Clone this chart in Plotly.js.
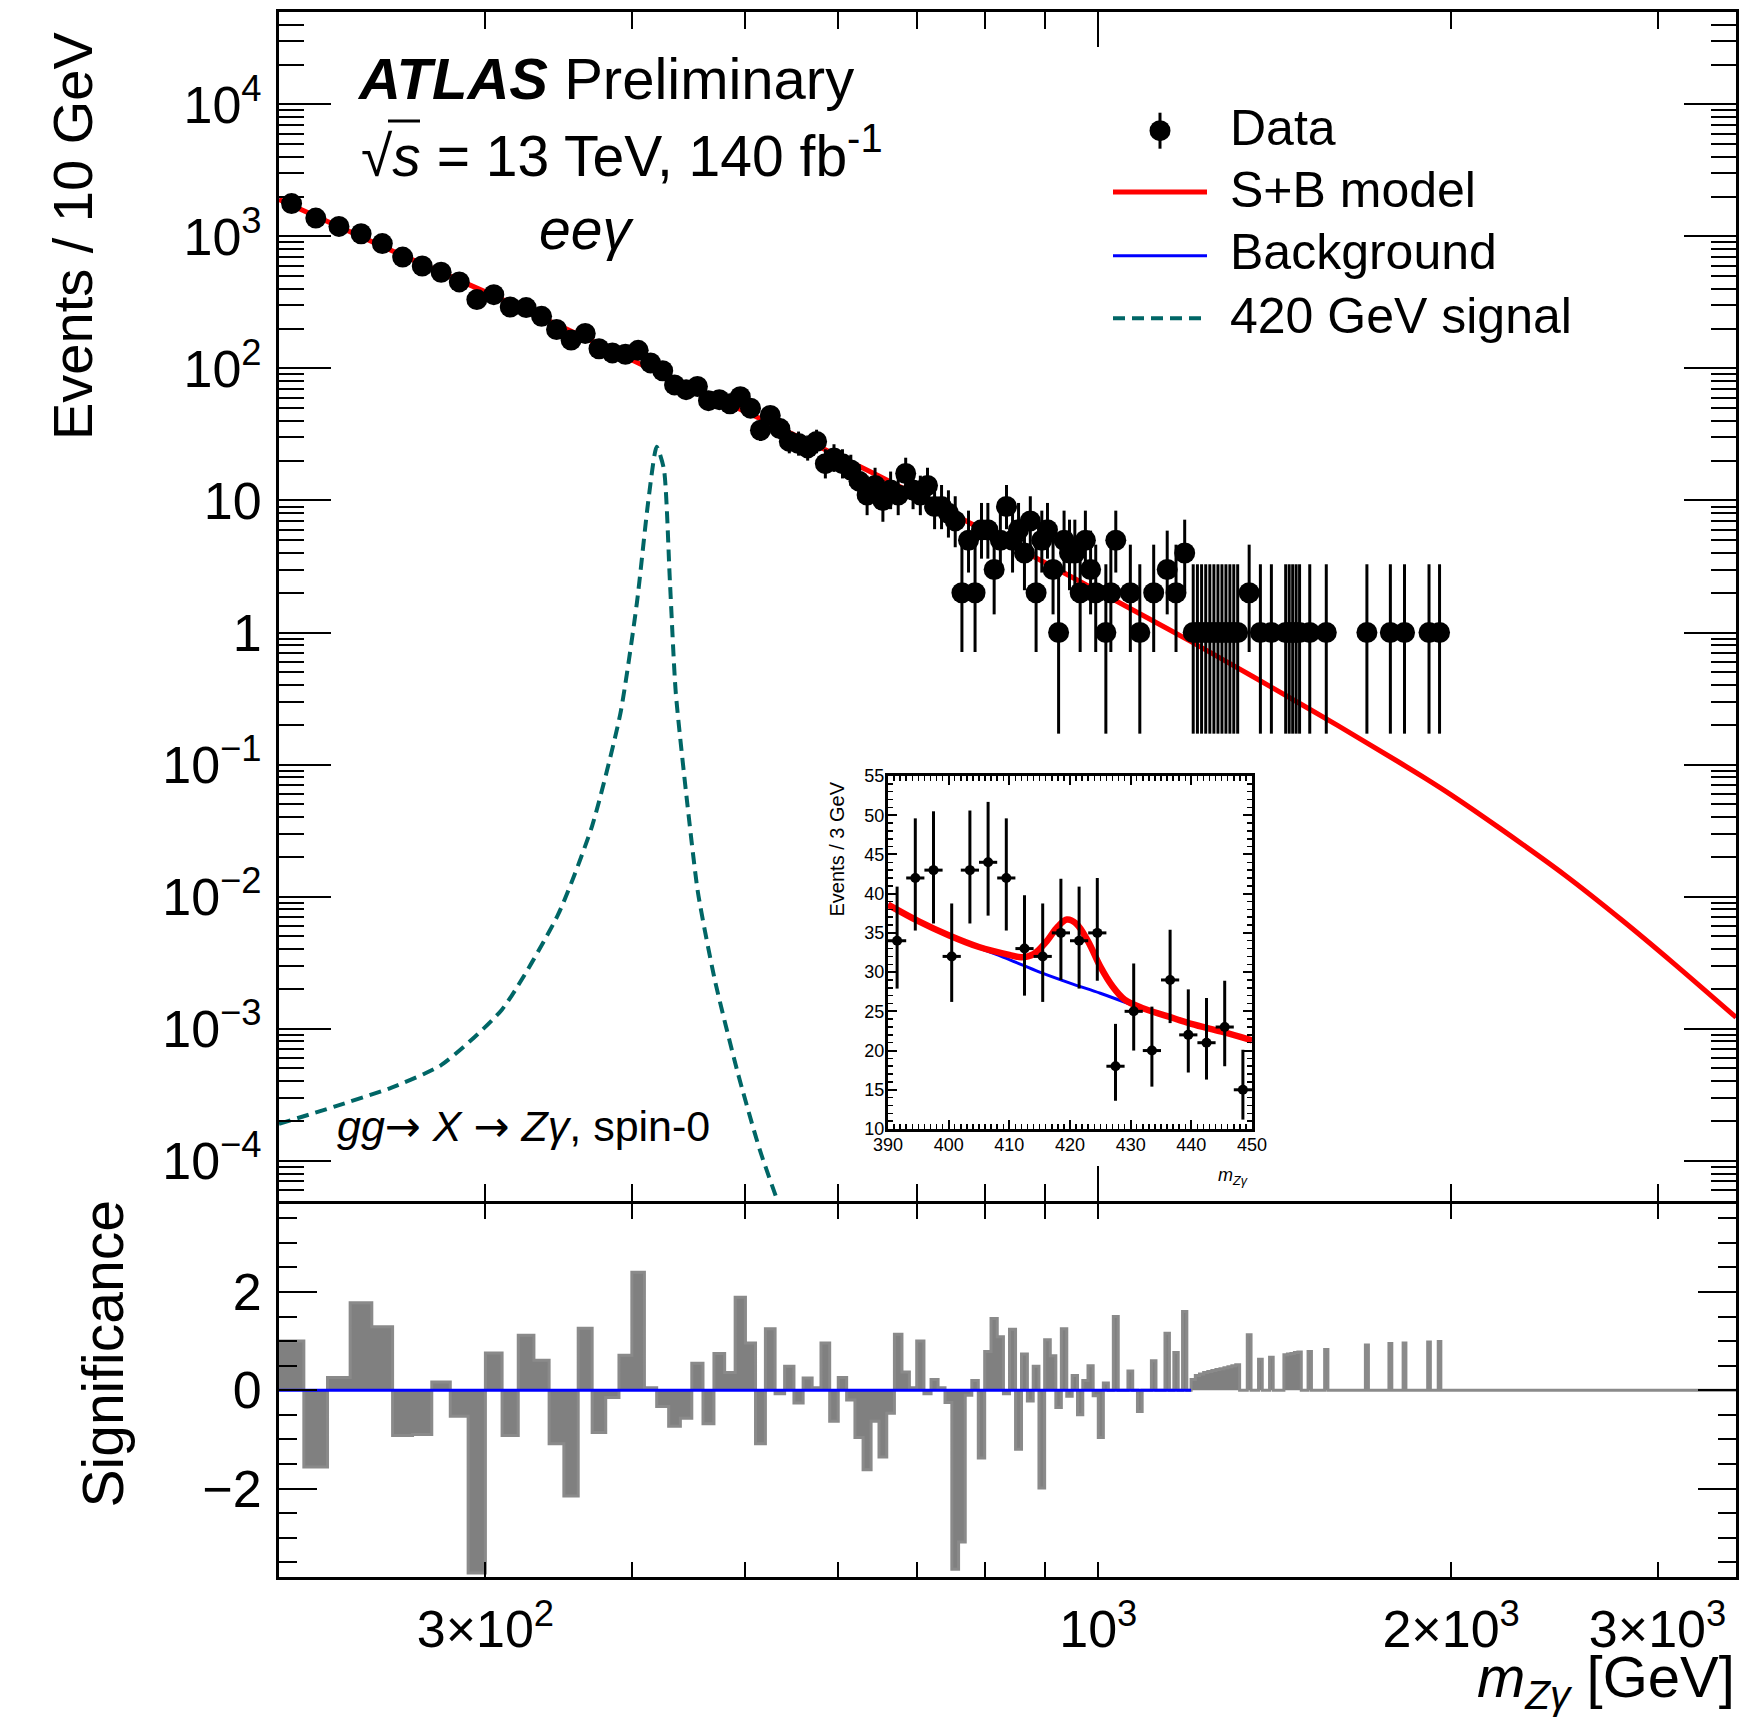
<!DOCTYPE html>
<html>
<head>
<meta charset="utf-8">
<script src="https://cdn.plot.ly/plotly-3.0.1.min.js"></script>
<style>html,body{margin:0;padding:0;background:#fff;}#chart{width:1751px;height:1721px;}</style>
</head>
<body>
<div id="chart"></div>
<script>
// ---------------- DATA ----------------
// 10 GeV bins starting at 200 GeV
const binLowEdge = 200;
const binWidth = 10;
// observed events per bin (centres 205, 215, ... 1995)
const dataCounts = [
  1770,1375,1190,1047,881,697,596,535,452,332,
  362,292,289,248,197,164,184,141,131,128,
  137,110,96,75,69,73,57,58,54,61,
  50,34,44,35,28,27,25,28,19,21,
  19,17,14,11,13,10,12,11,16,12,
  11,13,9,9,8,7,2,5,2,6,
  6,3,5,9,5,6,4,7,2,5,
  6,3,1,5,4,4,2,5,3,2,
  0,1,2,5,0,0,2,0,1,0,
  0,2,0,0,3,0,2,0,4,0,
  1,1,1,1,1,1,1,1,1,1,
  1,1,0,0,2,0,0,1,0,0,
  1,0,0,0,1,1,1,1,1,0,
  0,1,0,0,0,0,1,0,0,0,
  0,0,0,0,0,0,0,0,0,1,
  0,0,0,0,0,0,0,1,0,0,
  0,0,1,0,0,0,0,0,0,0,
  0,1,0,0,0,1,0,0,0,0
];
// significance per bin
const significance = [
  1.00,-1.56,0.26,1.78,1.29,-0.92,-0.90,0.17,-0.53,-3.72,
  0.76,-0.92,1.12,0.61,-1.09,-2.15,1.26,-0.86,-0.15,0.71,
  2.40,0.05,-0.33,-0.73,-0.57,0.55,-0.68,0.75,0.36,1.89,
  0.96,-1.09,1.25,-0.07,0.49,-0.26,0.25,0.05,0.96,-0.63,
  0.26,-0.20,-0.96,-1.62,-0.63,-1.36,-0.47,1.14,0.37,0.05,
  1.00,-0.07,0.22,0.05,-0.25,-3.64,-3.09,-0.10,0.20,-1.38,
  0.79,1.46,1.09,-0.07,1.24,-1.20,0.74,-0.22,0.49,-1.99,
  1.03,0.70,-0.35,1.25,-0.12,0.30,-0.50,0.20,0.50,-0.11,
  -0.96,0.15,0,1.50,0,0,0.39,0,-0.43,0,
  0,0.60,0,0,1.16,0,0.77,0,1.60,0,
  0.22,0.30,0.33,0.36,0.38,0.40,0.42,0.44,0.46,0.48,
  0.50,0.52,0,0,1.13,0,0,0.63,0,0,
  0.67,0,0,0,0.72,0.74,0.75,0.77,0.78,0,
  0,0.79,0,0,0,0,0.83,0,0,0,
  0,0,0,0,0,0,0,0,0,0.92,
  0,0,0,0,0,0,0,0.95,0,0,
  0,0,0.96,0,0,0,0,0,0,0,
  0,0.98,0,0,0,0.99,0,0,0,0
];
// S+B / background model (events / 10 GeV)
const modelMass = [200,250,300,350,400,450,500,550,600,650,700,750,800,850,900,950,1000,1100,1200,1300,1400,1600,1800,1900,2000,2200,2500,2800,3100,3500];
const sbModel   = [1900,775,380,203,116,71,47,31.5,21.7,15.3,10.95,7.97,5.9,4.44,3.39,2.62,2.05,1.30,0.853,0.571,0.393,0.198,0.106,0.079,0.059,0.033,0.0146,0.0066,0.0031,0.00122];
const bkgModel  = [1900,775,380,203,116,71,47,31.5,21.7,15.3,10.95,7.97,5.9,4.44,3.39,2.62,2.05,1.30,0.853,0.571,0.393,0.198,0.106,0.079,0.059,0.033,0.0146,0.0066,0.0031,0.00122];
// 420 GeV signal shape
const signalMass  = [200,223,249.5,275,310,346,370,391,404,413,420,426,431,436,446,455.5,471,492,514,540];
const signalYield = [1.9e-4,2.57e-4,3.58e-4,5.3e-4,1.4e-3,7.3e-3,0.0344,0.241,1.68,9.7,25.5,17.3,2.5,0.355,0.051,0.0107,2.3e-3,4.8e-4,1.23e-4,3.5e-5];
// inset (3 GeV bins)
const insetMass   = [391.5,394.5,397.5,400.5,403.5,406.5,409.5,412.5,415.5,418.5,421.5,424.5,427.5,430.5,433.5,436.5,439.5,442.5,445.5,448.5];
const insetCounts = [34,42,43,32,43,44,42,33,32,35,34,35,18,25,20,29,22,21,23,15];
const insetErrUp  = [6.9,7.6,7.5,6.75,7.6,7.7,7.6,6.8,6.75,6.9,6.9,7.0,5.4,6.1,5.6,6.4,5.8,5.7,5.9,5.1];
const insetErrDn  = [6.1,6.7,6.8,5.8,6.8,6.8,6.7,6.0,5.8,6.0,6.1,6.1,4.4,5.0,4.6,5.5,4.8,4.7,5.0,3.8];
const insetHalfBin = 1.5;
const insetSBMass = [390,395,400,405,410,412,414,416,418,419.5,421,423,425,427,429,432,436,440,445,450];
const insetSB     = [38.6,36.5,34.7,33.2,32.2,31.9,32.3,33.8,35.8,36.7,36.2,33.9,30.7,28.2,26.5,25.4,24.4,23.4,22.4,21.3];
const insetBkgMass = [390,395,400,405,410,415,420,425,430,435,440,445,450];
const insetBkg     = [38.6,36.5,34.7,33.1,31.6,30.0,28.6,27.3,25.9,24.6,23.4,22.3,21.3];
// axis tick labels
const yTickVals = [1e-4,1e-3,1e-2,1e-1,1,10,100,1000,10000];
const yTickText = ['10<sup>\u22124</sup>','10<sup>\u22123</sup>','10<sup>\u22122</sup>','10<sup>\u22121</sup>','1','10','10<sup>2</sup>','10<sup>3</sup>','10<sup>4</sup>'];
const xTickVals = [300,1000,2000,3000];
const xTickText = ['3\u00d710<sup>2</sup>','10<sup>3</sup>','2\u00d710<sup>3</sup>','3\u00d710<sup>3</sup>'];
const xMinorVals = [300,400,500,600,700,800,900,2000,3000];
const sigTickVals = [-2,0,2];
const sigTickText = ['\u22122','0','2'];

// ---------------- BUILD ----------------
const FONT = 'Liberation Sans, Arial, Helvetica, sans-serif';
const W = 1751, H = 1721;
const L = 279, R = 15, T = 12, B = 144;
const plotW = W - L - R, plotH = H - T - B;
const px = x => (x - L) / plotW;
const py = y => (H - B - y) / plotH;
const splitY = py(1202);
const gap = 1.5 / plotH;

const dX = [], dY = [], dUp = [], dDn = [];
dataCounts.forEach((n, i) => {
  if (n > 0) {
    dX.push(binLowEdge + binWidth * (i + 0.5));
    dY.push(n);
    const lo = n * Math.pow(1 - 1 / (9 * n) - 1 / (3 * Math.sqrt(n)), 3);
    const hi = (n + 1) * Math.pow(1 - 1 / (9 * (n + 1)) + 1 / (3 * Math.sqrt(n + 1)), 3);
    dUp.push(hi - n); dDn.push(n - lo);
  }
});
const sX = [], sY = [];
significance.forEach((s, i) => { sX.push(binLowEdge + binWidth * i); sY.push(s); });
sX.push(binLowEdge + binWidth * significance.length); sY.push(0);
sX.push(3500); sY.push(0);

const yMinor = [];
for (let d = -5; d <= 4; d++) for (let k = 2; k <= 9; k++) { const v = k * Math.pow(10, d); if (v > 5.01e-5 && v < 4.99e4) yMinor.push(v); }

const traces = [
  { x: sX, y: sY, xaxis: 'x2', yaxis: 'y2', type: 'scatter', mode: 'lines', line: { shape: 'hv', color: '#8a8a8a', width: 3 }, fill: 'tozeroy', fillcolor: '#808080', hoverinfo: 'skip' },
  { x: [200, 1200], y: [0, 0], xaxis: 'x2', yaxis: 'y2', type: 'scatter', mode: 'lines', line: { color: '#0000ff', width: 3 } },
  { x: signalMass, y: signalYield, type: 'scatter', mode: 'lines', line: { color: '#006666', width: 4, dash: '12px,7px', shape: 'spline', smoothing: 0.6 } },
  { x: modelMass, y: bkgModel, type: 'scatter', mode: 'lines', line: { color: '#0000ff', width: 3, shape: 'spline', smoothing: 0.8 } },
  { x: modelMass, y: sbModel, type: 'scatter', mode: 'lines', line: { color: '#ff0000', width: 5, shape: 'spline', smoothing: 0.8 } },
  { x: dX, y: dY, type: 'scatter', mode: 'markers', marker: { color: 'black', size: 21 },
    error_y: { type: 'data', symmetric: false, array: dUp, arrayminus: dDn, width: 0, thickness: 3, color: 'black' } },
  { x: insetBkgMass, y: insetBkg, xaxis: 'x3', yaxis: 'y3', type: 'scatter', mode: 'lines', line: { color: '#0000ff', width: 3, shape: 'spline' } },
  { x: insetSBMass, y: insetSB, xaxis: 'x3', yaxis: 'y3', type: 'scatter', mode: 'lines', line: { color: '#ff0000', width: 6.5, shape: 'spline' } },
  { x: insetMass, y: insetCounts, xaxis: 'x3', yaxis: 'y3', type: 'scatter', mode: 'markers', marker: { color: 'black', size: 10 },
    error_y: { type: 'data', symmetric: false, array: insetErrUp, arrayminus: insetErrDn, width: 0, thickness: 3, color: 'black' },
    error_x: { type: 'constant', value: insetHalfBin, width: 0, thickness: 3, color: 'black' } }
];

const axBase = { showline: true, linewidth: 3, linecolor: 'black', mirror: 'ticks', showgrid: false, zeroline: false, ticks: 'inside', tickcolor: 'black', tickwidth: 2, tickfont: { family: FONT, size: 52, color: 'black' } };
const lr = [Math.log10(200), Math.log10(3500)];

const ARROW = '<span style="font-family:DejaVu Sans">\u2192</span>';

const layout = {
  width: W, height: H, margin: { l: L, r: R, t: T, b: B }, paper_bgcolor: 'white', plot_bgcolor: 'white', showlegend: false,
  font: { family: FONT, color: 'black' },
  xaxis: Object.assign({}, axBase, { domain: [0, 1], anchor: 'y', type: 'log', range: lr, tickmode: 'array', tickvals: [1000], ticklen: 35, showticklabels: false,
    minor: { tickmode: 'array', tickvals: xMinorVals, ticklen: 17, tickwidth: 2, ticks: 'inside', tickcolor: 'black', showgrid: false } }),
  yaxis: Object.assign({}, axBase, { domain: [splitY + gap, 1], anchor: 'x', type: 'log', range: [Math.log10(5e-5), Math.log10(5e4)], tickmode: 'array', tickvals: yTickVals, ticktext: yTickText, ticklen: 52, ticklabelstandoff: 4,
    minor: { tickmode: 'array', tickvals: yMinor, ticklen: 25, tickwidth: 2, ticks: 'inside', tickcolor: 'black', showgrid: false } }),
  xaxis2: Object.assign({}, axBase, { domain: [0, 1], anchor: 'y2', type: 'log', range: lr, tickmode: 'array', tickvals: xTickVals, ticktext: xTickText, ticklen: 15, ticklabelstandoff: 5,
    tickfont: { family: FONT, size: 52, color: 'black' },
    minor: { tickmode: 'array', tickvals: [400,500,600,700,800,900], ticklen: 15, tickwidth: 2, ticks: 'inside', tickcolor: 'black', showgrid: false } }),
  yaxis2: Object.assign({}, axBase, { domain: [0, splitY - gap], anchor: 'x2', range: [-3.8, 3.8], tickmode: 'array', tickvals: sigTickVals, ticktext: sigTickText, ticklen: 38, ticklabelstandoff: 4,
    minor: { tickmode: 'linear', tick0: 0, dtick: 0.5, ticklen: 18, tickwidth: 2, ticks: 'inside', tickcolor: 'black', showgrid: false } }),
  xaxis3: Object.assign({}, axBase, { domain: [px(888), px(1252)], anchor: 'y3', range: [390, 450], tickmode: 'linear', tick0: 390, dtick: 10, ticklen: 9, ticklabelstandoff: -3, linewidth: 3,
    tickfont: { family: FONT, size: 18, color: 'black' },
    minor: { tickmode: 'linear', tick0: 390, dtick: 1, ticklen: 5, tickwidth: 1.5, ticks: 'inside', tickcolor: 'black', showgrid: false } }),
  yaxis3: Object.assign({}, axBase, { domain: [py(1129), py(776)], anchor: 'x3', range: [10, 55], tickmode: 'linear', tick0: 10, dtick: 5, ticklen: 9, ticklabelstandoff: -3, linewidth: 3,
    tickfont: { family: FONT, size: 18, color: 'black' },
    minor: { tickmode: 'linear', tick0: 10, dtick: 1, ticklen: 5, tickwidth: 1.5, ticks: 'inside', tickcolor: 'black', showgrid: false } }),
  shapes: [
    { type: 'line', xref: 'x2', x0: 3, x1: 3, yref: 'paper', ysizemode: 'pixel', yanchor: 0, y0: 0, y1: 30, line: { color: 'black', width: 2 } },
    { type: 'line', xref: 'x2', x0: 3, x1: 3, yref: 'paper', ysizemode: 'pixel', yanchor: splitY - gap, y0: 0, y1: -30, line: { color: 'black', width: 2 } },
    // overbar of the square root
    { type: 'line', xref: 'paper', yref: 'paper', x0: px(388), x1: px(420), y0: py(121), y1: py(121), line: { color: 'black', width: 3 } },
    // legend symbols
    { type: 'line', xref: 'paper', yref: 'paper', xsizemode: 'pixel', ysizemode: 'pixel', xanchor: px(1160), yanchor: py(130.7), x0: 0, x1: 0, y0: -18, y1: 18, line: { color: 'black', width: 3 } },
    { type: 'circle', xref: 'paper', yref: 'paper', xsizemode: 'pixel', ysizemode: 'pixel', xanchor: px(1160), yanchor: py(130.7), x0: -10.5, x1: 10.5, y0: -10.5, y1: 10.5, fillcolor: 'black', line: { color: 'black', width: 0 } },
    { type: 'line', xref: 'paper', yref: 'paper', x0: px(1113), x1: px(1207), y0: py(192), y1: py(192), line: { color: '#ff0000', width: 5 } },
    { type: 'line', xref: 'paper', yref: 'paper', x0: px(1113), x1: px(1207), y0: py(255.7), y1: py(255.7), line: { color: '#0000ff', width: 3 } },
    { type: 'line', xref: 'paper', yref: 'paper', x0: px(1113), x1: px(1207), y0: py(318.3), y1: py(318.3), line: { color: '#006666', width: 4, dash: '12px,7px' } }
  ],
  annotations: [
    { text: 'Events / 10 GeV', xref: 'paper', yref: 'paper', x: px(73), y: py(30), xanchor: 'center', yanchor: 'top', textangle: -90, showarrow: false, font: { family: FONT, size: 56, color: 'black' } },
    { text: 'Significance', xref: 'paper', yref: 'paper', x: px(102), y: py(1199), xanchor: 'center', yanchor: 'top', textangle: -90, showarrow: false, font: { family: FONT, size: 57, color: 'black' } },
    { text: '<i>m</i><sub><i>Z\u03b3</i></sub> [GeV]', xref: 'paper', yref: 'paper', x: px(1737), y: py(1681), xanchor: 'right', yanchor: 'middle', showarrow: false, font: { family: FONT, size: 58, color: 'black' } },
    { text: '<b><i>ATLAS</i></b> Preliminary', xref: 'paper', yref: 'paper', x: px(355), y: py(79), xanchor: 'left', yanchor: 'middle', showarrow: false, font: { family: FONT, size: 58, color: 'black' } },
    { text: '\u221a<i>s</i> = 13 TeV, 140 fb<sup>-1</sup>', xref: 'paper', yref: 'paper', x: px(359), y: py(152), xanchor: 'left', yanchor: 'middle', showarrow: false, font: { family: FONT, size: 57, color: 'black' } },
    { text: '<i>ee\u03b3</i>', xref: 'paper', yref: 'paper', x: px(586), y: py(229), xanchor: 'center', yanchor: 'middle', showarrow: false, font: { family: FONT, size: 57, color: 'black' } },
    { text: '<i>gg</i>' + ARROW + ' <i>X</i> ' + ARROW + ' <i>Z\u03b3</i>, spin-0', xref: 'paper', yref: 'paper', x: px(335), y: py(1126), xanchor: 'left', yanchor: 'middle', showarrow: false, font: { family: FONT, size: 43, color: 'black' } },
    { text: 'Data', xref: 'paper', yref: 'paper', x: px(1228), y: py(128.4), xanchor: 'left', yanchor: 'middle', showarrow: false, font: { family: FONT, size: 50, color: 'black' } },
    { text: 'S+B model', xref: 'paper', yref: 'paper', x: px(1228), y: py(190), xanchor: 'left', yanchor: 'middle', showarrow: false, font: { family: FONT, size: 50, color: 'black' } },
    { text: 'Background', xref: 'paper', yref: 'paper', x: px(1228), y: py(252), xanchor: 'left', yanchor: 'middle', showarrow: false, font: { family: FONT, size: 50, color: 'black' } },
    { text: '420 GeV signal', xref: 'paper', yref: 'paper', x: px(1228), y: py(316), xanchor: 'left', yanchor: 'middle', showarrow: false, font: { family: FONT, size: 50, color: 'black' } },
    { text: 'Events / 3 GeV', xref: 'paper', yref: 'paper', x: px(837), y: py(780), xanchor: 'center', yanchor: 'top', textangle: -90, showarrow: false, font: { family: FONT, size: 20, color: 'black' } },
    { text: '<i>m</i><sub><i>Z\u03b3</i></sub>', xref: 'paper', yref: 'paper', x: px(1250), y: py(1176), xanchor: 'right', yanchor: 'middle', showarrow: false, font: { family: FONT, size: 18, color: 'black' } }
  ]
};

Plotly.newPlot('chart', traces, layout, { displayModeBar: false, staticPlot: true });
</script>
</body>
</html>
